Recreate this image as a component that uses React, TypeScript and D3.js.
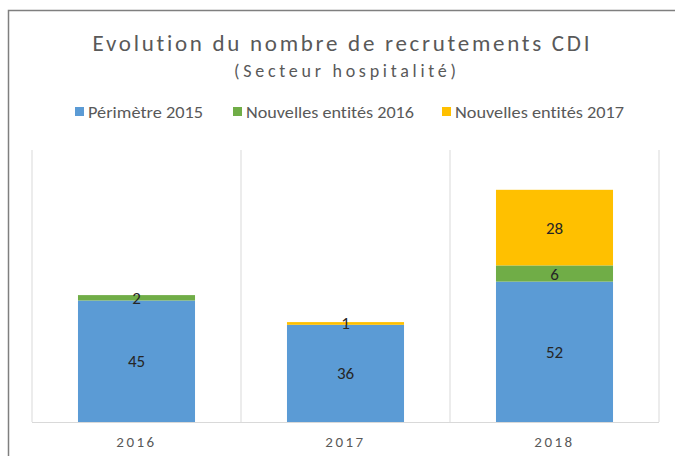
import React from "react";
import * as d3 from "d3";

const categories = ["2016", "2017", "2018"];
const seriesNames = ["Périmètre 2015", "Nouvelles entités 2016", "Nouvelles entités 2017"];
const perimetre2015 = [45, 36, 52];
const nouvelles2016 = [2, 0, 6];
const nouvelles2017 = [0, 1, 28];
const colors = ["#5B9BD5", "#70AD47", "#FFC000"];
const labels2016 = ["2", "", "6"];
const labels2017 = ["", "1", "28"];

export default function App() {
  const W = 675, H = 456;
  const left = 32, right = 659, top = 152, bottom = 422;
  const x = d3.scaleBand().domain(categories).range([left, right]).paddingInner(0.44).paddingOuter(0.22);
  const y = d3.scaleLinear().domain([0, 100]).range([bottom, top]);
  const rows = categories.map((c, i) => ({ cat: c, p: perimetre2015[i], n16: nouvelles2016[i], n17: nouvelles2017[i] }));
  const stack = d3.stack<any>().keys(["p", "n16", "n17"])(rows);
  const valueLabels = [perimetre2015.map(String), labels2016, labels2017];
  const bands = d3.range(categories.length + 1).map(i => left + (i * (right - left)) / categories.length);
  const font = "Calibri, Carlito, 'Liberation Sans', 'Open Sans', sans-serif";
  const legendItems = [
    { x: 75, tw: 115 },
    { x: 233, tw: 168 },
    { x: 442, tw: 169 },
  ];
  return (
    <svg width={W} height={H} style={{ position: "absolute", left: 0, top: 0, fontVariantLigatures: "none" }} fontFamily={font}>
      <rect x={0} y={0} width={W} height={H} fill="#fff" />
      <rect x={8.5} y={10.5} width={720} height={520} fill="#fff" stroke="#7f7f7f" strokeWidth={1.5} />
      <text x={341} y={51} textAnchor="middle" fontSize={23} fill="#595959" textLength={497} lengthAdjust="spacing">
        Evolution du nombre de recrutements CDI
      </text>
      <text x={345} y={77} textAnchor="middle" fontSize={18} fill="#595959" textLength={222} lengthAdjust="spacing">
        (Secteur hospitalité)
      </text>
      {seriesNames.map((s, i) => (
        <g key={s}>
          <rect x={legendItems[i].x} y={107} width={9} height={9} fill={colors[i]} />
          <text x={legendItems[i].x + 13} y={117.5} fontSize={16} fill="#595959" textLength={legendItems[i].tw} lengthAdjust="spacingAndGlyphs">
            {s}
          </text>
        </g>
      ))}
      {bands.map((b, i) => (
        <line key={i} x1={b} x2={b} y1={150} y2={bottom} stroke="#d9d9d9" strokeWidth={1} />
      ))}
      {stack.map((layer, si) => (
        <g key={si}>
          {layer.map((d, i) => {
            const h = y(d[0]) - y(d[1]);
            if (h <= 0) return null;
            return (
              <rect key={i} x={x(categories[i])} y={y(d[1])} width={x.bandwidth()} height={h} fill={colors[si]} />
            );
          })}
        </g>
      ))}
      {stack.map((layer, si) => (
        <g key={"l" + si}>
          {layer.map((d, i) => {
            const lab = valueLabels[si][i];
            if (!lab) return null;
            const cy = (y(d[0]) + y(d[1])) / 2;
            return (
              <text key={i} x={x(categories[i])! + x.bandwidth() / 2} y={cy + 6} textAnchor="middle" fontSize={17} fill="#262626">
                {lab}
              </text>
            );
          })}
        </g>
      ))}
      <line x1={left} x2={right} y1={bottom + 0.5} y2={bottom + 0.5} stroke="#d9d9d9" strokeWidth={1} />
      {categories.map(c => (
        <text key={c} x={x(c)! + x.bandwidth() / 2} y={447} textAnchor="middle" fontSize={15} fill="#595959" letterSpacing={2.5}>
          {c}
        </text>
      ))}
    </svg>
  );
}
